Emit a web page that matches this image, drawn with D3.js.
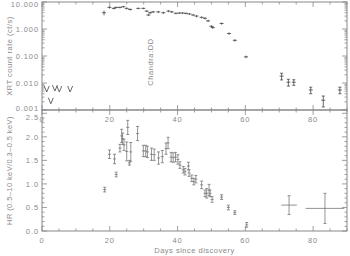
<!DOCTYPE html>
<html>
<head>
<meta charset="utf-8">
<script src="https://cdnjs.cloudflare.com/ajax/libs/d3/7.8.5/d3.min.js"></script>
<style>
  body { margin: 0; background: #fff; }
  svg text { font-family: "Liberation Sans", Arial, sans-serif; fill: #8a8a8a; }
</style>
</head>
<body>
<script>
// count rate detections (days, ct/s, error)
var rateDays = [18.3, 19.9, 21.2, 21.9, 23.0, 24.0, 25.0, 26.0, 28.4, 29.9, 30.9, 31.4, 31.9, 32.8, 34.3, 35.8, 37.3, 38.3, 39.5,
                40.5, 41.5, 42.5, 43.5, 44.6, 45.6, 47.1, 48.1, 49.0, 50.0, 50.4, 53.0, 55.2, 56.9, 60.2];
var rateVals = [4.0, 6.3, 5.8, 6.3, 6.3, 6.7, 5.8, 5.3, 5.8, 5.8, 4.6, 3.3, 4.0, 4.3, 4.3, 4.0, 4.6, 4.3, 3.8,
                3.9, 3.9, 3.8, 3.6, 3.3, 3.0, 2.7, 2.5, 2.0, 1.26, 1.13, 1.6, 0.68, 0.38, 0.093];
var rateErr  = [0.8, 0.6, 0.5, 0.5, 0.5, 0.5, 0.5, 0.5, 0.4, 0.4, 0.4, 0.3, 0.4, 0.4, 0.4, 0.4, 0.4, 0.4, 0.3,
                0.3, 0.3, 0.3, 0.3, 0.3, 0.3, 0.25, 0.25, 0.2, 0.12, 0.12, 0.15, 0.07, 0.04, 0.01];

// faint late detections with caps
var lateDays = [70.7, 72.7, 74.3, 79.3, 83.0, 87.9];
var lateVals = [0.018, 0.0107, 0.0107, 0.0055, 0.0023, 0.0055];
var lateErr  = [0.005, 0.003, 0.0025, 0.0015, 0.001, 0.0015];

// upper limits
var ulDays = [1.4, 2.6, 3.8, 5.1, 8.3];
var ulVals = [0.006, 0.0022, 0.0065, 0.006, 0.006];

// hardness ratio
var hrDays = [18.5, 19.9, 21.4, 21.9, 23.0, 23.5, 23.8, 24.2, 25.0, 25.3, 25.8, 26.2, 28.2, 29.9, 30.6, 31.1, 32.3, 33.1, 34.4,
              35.5, 36.6, 37.2, 38.1, 38.7, 39.4, 40.1, 40.7, 41.7, 42.2, 43.2, 43.4, 44.2, 44.8, 45.4, 47.1, 48.1, 48.6,
              49.3, 49.6, 50.2, 53.0, 55.0, 56.9, 60.4];
var hrVals = [0.88, 1.63, 1.53, 1.20, 1.76, 2.02, 1.96, 1.83, 1.69, 2.20, 1.45, 1.68, 2.07, 1.70, 1.70, 1.68, 1.63, 1.62, 1.55,
              1.58, 1.75, 1.87, 1.57, 1.56, 1.57, 1.52, 1.40, 1.30, 1.26, 1.38, 1.23, 1.12, 1.05, 1.10, 0.98, 0.80, 0.80,
              0.87, 0.80, 0.67, 0.72, 0.50, 0.39, 0.13];
var hrErr  = [0.05, 0.09, 0.10, 0.05, 0.08, 0.14, 0.12, 0.12, 0.20, 0.15, 0.05, 0.20, 0.15, 0.12, 0.12, 0.12, 0.13, 0.12, 0.13,
              0.13, 0.12, 0.12, 0.10, 0.10, 0.10, 0.10, 0.07, 0.07, 0.07, 0.08, 0.07, 0.07, 0.07, 0.08, 0.08, 0.07, 0.10,
              0.12, 0.07, 0.06, 0.05, 0.05, 0.04, 0.05];
var hrBinDays = [72.9, 83.5];
var hrBinVals = [0.55, 0.48];
var hrBinErr  = [0.2, 0.32];
var hrBinWidth = [2.3, 5.7];

var rateTicks = [0.001, 0.01, 0.1, 1, 10];
var hrTicks = [0.0, 0.5, 1.0, 1.5, 2.0, 2.5];
var dayTicks = [0, 20, 40, 60, 80];

var W = 350, H = 256;
var L = 42, R = 347, T = 2, M = 110, B = 231;
var axisCol = "#888", topCol = "#444", botCol = "#777";

var svg = d3.select("body").append("svg").attr("width", W).attr("height", H);

var x = d3.scaleLinear().domain([0, 90]).range([L, R]);
var yTop = d3.scaleLog().domain([0.001, 10]).range([M, T]);
var yBot = d3.scaleLinear().domain([0, 2.57]).range([B, M]);

// frames
function frame(y0, y1) {
  svg.append("rect").attr("x", L).attr("y", y0).attr("width", R - L).attr("height", y1 - y0)
    .attr("fill", "none").attr("stroke", axisCol).attr("stroke-width", 1);
}
frame(T, M);
frame(M, B);

function tickLines(g, arr, fn) {
  g.selectAll(null).data(arr).enter().append("line")
    .each(function(d) { var a = fn(d); d3.select(this).attr("x1", a[0]).attr("y1", a[1]).attr("x2", a[2]).attr("y2", a[3]); })
    .attr("stroke", axisCol).attr("stroke-width", 0.8);
}

var g = svg.append("g");
var minorDays = d3.range(0, 91, 5);
// x ticks both panels
[[T, M], [M, B]].forEach(function(p) {
  tickLines(g, minorDays, function(d) { var len = d % 20 === 0 ? 5 : 2.5; return [x(d), p[1], x(d), p[1] - len]; });
  tickLines(g, minorDays, function(d) { var len = d % 20 === 0 ? 5 : 2.5; return [x(d), p[0], x(d), p[0] + len]; });
});

// log ticks
var logMinor = [];
[0.001, 0.01, 0.1, 1].forEach(function(dec) { for (var i = 2; i <= 9; i++) logMinor.push(dec * i); });
tickLines(g, rateTicks, function(d) { return [L, yTop(d), L + 5, yTop(d)]; });
tickLines(g, rateTicks, function(d) { return [R, yTop(d), R - 5, yTop(d)]; });
tickLines(g, logMinor, function(d) { return [L, yTop(d), L + 2.5, yTop(d)]; });
tickLines(g, logMinor, function(d) { return [R, yTop(d), R - 2.5, yTop(d)]; });

// hr ticks
var hrMinor = d3.range(0, 26).map(function(i) { return i / 10; });
tickLines(g, hrMinor, function(d) { var len = (Math.round(d * 10) % 5 === 0) ? 5 : 2.5; return [L, yBot(d), L + len, yBot(d)]; });
tickLines(g, hrMinor, function(d) { var len = (Math.round(d * 10) % 5 === 0) ? 5 : 2.5; return [R, yBot(d), R - len, yBot(d)]; });

// tick labels (end labels nudged inside so they do not collide)
var fs = "7.5px";
svg.selectAll(".rl").data(rateTicks).enter().append("text")
  .attr("x", L - 3)
  .attr("y", function(d) { var y = yTop(d) + 3; if (d === 10) y += 2; if (d === 0.001) y -= 2; return y; })
  .attr("text-anchor", "end").attr("font-size", fs).attr("letter-spacing", "0.9px")
  .text(function(d) { return d3.format(".3f")(d); });
svg.selectAll(".hl").data(hrTicks).enter().append("text")
  .attr("x", L - 3)
  .attr("y", function(d) { var y = yBot(d) + 3; if (d === 2.5) y += 4; return y; })
  .attr("text-anchor", "end").attr("font-size", fs).attr("letter-spacing", "0.9px")
  .text(function(d) { return d3.format(".1f")(d); });
[M + 12, B + 12].forEach(function(yy) {
  svg.selectAll(null).data(dayTicks).enter().append("text")
    .attr("x", function(d) { return x(d); }).attr("y", yy)
    .attr("text-anchor", "middle").attr("font-size", fs).attr("letter-spacing", "0.9px")
    .text(function(d) { return d; });
});

svg.append("text").attr("x", (L + R) / 2).attr("y", 253).attr("text-anchor", "middle")
  .attr("font-size", "7.5px").attr("letter-spacing", "0.5px").text("Days since discovery");
svg.append("text").attr("transform", "translate(12," + (T + M) / 2 + ") rotate(-90)")
  .attr("text-anchor", "middle").attr("font-size", "7.5px").attr("letter-spacing", "0.5px")
  .text("XRT count rate (ct/s)");
svg.append("text").attr("transform", "translate(12," + (M + B) / 2 + ") rotate(-90)")
  .attr("text-anchor", "middle").attr("font-size", "7.5px").attr("letter-spacing", "0.4px")
  .text("HR (0.5\u201310 keV/0.3\u20130.5 keV)");
svg.append("text").attr("transform", "translate(" + (x(32) + 3) + "," + yTop(0.06) + ") rotate(-90)")
  .attr("text-anchor", "middle").attr("font-size", "7.5px").attr("letter-spacing", "0.6px")
  .text("Chandra:DD");

// top panel detections: crosses
var dTop = svg.append("g").attr("stroke", topCol).attr("stroke-width", 0.8);
rateDays.forEach(function(d, i) {
  var cx = x(d), v = rateVals[i], e = rateErr[i];
  dTop.append("line").attr("x1", cx).attr("x2", cx).attr("y1", yTop(v + e)).attr("y2", yTop(v - e));
  dTop.append("line").attr("x1", cx - 2).attr("x2", cx + 2).attr("y1", yTop(v)).attr("y2", yTop(v));
});
lateDays.forEach(function(d, i) {
  var cx = x(d), v = lateVals[i], e = lateErr[i];
  dTop.append("line").attr("x1", cx).attr("x2", cx).attr("y1", yTop(v + e)).attr("y2", yTop(v - e));
  dTop.append("line").attr("x1", cx - 1.5).attr("x2", cx + 1.5).attr("y1", yTop(v + e)).attr("y2", yTop(v + e));
  dTop.append("line").attr("x1", cx - 1.5).attr("x2", cx + 1.5).attr("y1", yTop(v - e)).attr("y2", yTop(v - e));
  dTop.append("line").attr("x1", cx - 2).attr("x2", cx + 2).attr("y1", yTop(v)).attr("y2", yTop(v));
});
// upper limit "V" marks
ulDays.forEach(function(d, i) {
  var cx = x(d), cy = yTop(ulVals[i]);
  dTop.append("path").attr("fill", "none")
    .attr("d", "M" + (cx - 2.5) + "," + (cy - 3) + "L" + cx + "," + (cy + 3) + "L" + (cx + 2.5) + "," + (cy - 3));
});

// bottom panel HR
var dBot = svg.append("g").attr("stroke", botCol).attr("stroke-width", 0.8);
hrDays.forEach(function(d, i) {
  var cx = x(d), v = hrVals[i], e = hrErr[i];
  dBot.append("line").attr("x1", cx).attr("x2", cx).attr("y1", yBot(v + e)).attr("y2", yBot(v - e));
  dBot.append("line").attr("x1", cx - 1.5).attr("x2", cx + 1.5).attr("y1", yBot(v + e)).attr("y2", yBot(v + e));
  dBot.append("line").attr("x1", cx - 1.5).attr("x2", cx + 1.5).attr("y1", yBot(v - e)).attr("y2", yBot(v - e));
  dBot.append("line").attr("x1", cx - 1.5).attr("x2", cx + 1.5).attr("y1", yBot(v)).attr("y2", yBot(v));
});
hrBinDays.forEach(function(d, i) {
  var cx = x(d), v = hrBinVals[i], e = hrBinErr[i], w = hrBinWidth[i];
  dBot.append("line").attr("x1", cx).attr("x2", cx).attr("y1", yBot(v + e)).attr("y2", yBot(v - e));
  dBot.append("line").attr("x1", x(d - w)).attr("x2", x(d + w)).attr("y1", yBot(v)).attr("y2", yBot(v));
  dBot.append("line").attr("x1", cx - 1.5).attr("x2", cx + 1.5).attr("y1", yBot(v + e)).attr("y2", yBot(v + e));
  dBot.append("line").attr("x1", cx - 1.5).attr("x2", cx + 1.5).attr("y1", yBot(v - e)).attr("y2", yBot(v - e));
});
</script>
</body>
</html>
